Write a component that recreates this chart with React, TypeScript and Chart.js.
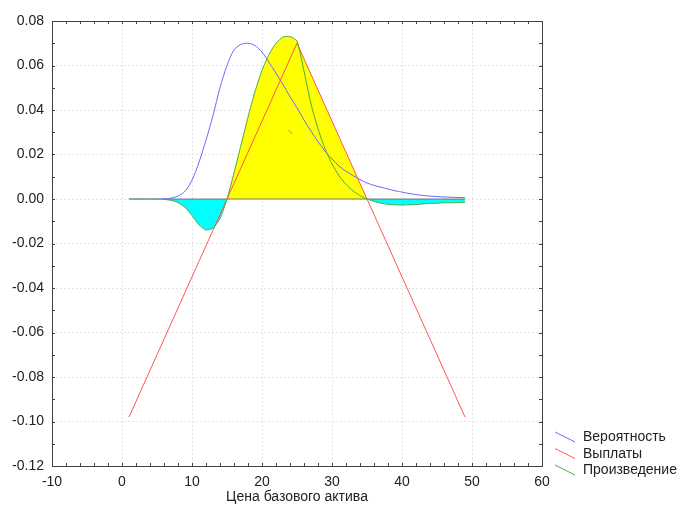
import React, { useEffect, useRef } from "react";
import { Chart, registerables } from "chart.js";

Chart.register(...registerables);

// Underlying asset price (x axis)
const priceX = [
  1, 2, 3, 4, 5, 6, 7, 8, 9, 10, 11, 12, 13, 14, 15, 16, 17, 18, 19, 20, 21, 22, 23, 24, 25,
  26, 27, 28, 29, 30, 31, 32, 33, 34, 35, 36, 37, 38, 39, 40, 41, 42, 43, 44, 45, 46, 47, 48, 49,
];

// Вероятность (probability density)
const probability = [
  0, 0, 0, 0, 0, 0.0001, 0.0004, 0.0013, 0.0035, 0.0085, 0.0165, 0.0265, 0.0375, 0.05, 0.06,
  0.067, 0.0695, 0.07, 0.069, 0.066, 0.0615, 0.0565, 0.0515, 0.046, 0.041, 0.0355, 0.0305,
  0.0258, 0.0215, 0.018, 0.0148, 0.0125, 0.0105, 0.0087, 0.0072, 0.0061, 0.0053, 0.0045,
  0.0037, 0.0031, 0.0025, 0.002, 0.0016, 0.0013, 0.0011, 0.0009, 0.0008, 0.0007, 0.0006,
];

// Выплаты (payoff)
const payoff = [
  -0.098, -0.091, -0.084, -0.077, -0.07, -0.063, -0.056, -0.049, -0.042, -0.035, -0.028, -0.021,
  -0.014, -0.007, 0, 0.007, 0.014, 0.021, 0.028, 0.035, 0.042, 0.049, 0.056, 0.063, 0.07, 0.063,
  0.056, 0.049, 0.042, 0.035, 0.028, 0.021, 0.014, 0.007, 0, -0.007, -0.014, -0.021, -0.028,
  -0.035, -0.042, -0.049, -0.056, -0.063, -0.07, -0.077, -0.084, -0.091, -0.098,
];

// Произведение (product)
const product = [
  0, 0, 0, 0, 0, -0.0002, -0.0006, -0.0016, -0.0037, -0.0074, -0.0116, -0.0139, -0.0131,
  -0.0088, 0, 0.0117, 0.0243, 0.0368, 0.0483, 0.0578, 0.065, 0.07, 0.0728, 0.073, 0.071,
  0.0575, 0.0427, 0.0316, 0.0226, 0.0158, 0.0104, 0.0066, 0.0037, 0.0015, 0, -0.0011, -0.0019,
  -0.0024, -0.0026, -0.0027, -0.0026, -0.0025, -0.0022, -0.002, -0.0019, -0.0017, -0.0017,
  -0.0016, -0.0015,
];

// Zero baseline segment drawn under the fills
const baselineX = [6, 49];
const baselineY = [0, 0];

// Small stray stroke inside the yellow area
const strayX = [23.8, 24.3];
const strayY = [0.031, 0.0292];

const legendLabels = ["Вероятность", "Выплаты", "Произведение"];
const xTitle = "Цена базового актива";

const xMin = -10, xMax = 60, xStep = 10, xMinorStep = 2;
const yMin = -0.12, yMax = 0.08, yStep = 0.02, yMinorStep = 0.01;

const BLUE = "rgb(105,105,255)";
const RED = "rgb(255,85,85)";
const GREEN = "rgb(70,170,70)";
const FONT = "'Liberation Sans', Arial, sans-serif";

export default function App() {
  const ref = useRef<HTMLCanvasElement | null>(null);

  useEffect(() => {
    document.body.style.margin = "0";
    const canvas = ref.current;
    if (!canvas) return;

    const pts = (ys: number[]) => priceX.map((x, i) => ({ x, y: ys[i] }));
    const yellowPts = priceX
      .map((x, i) => ({ x, y: Math.max(product[i], payoff[i], 0) }))
      .filter((p) => p.x >= 15 && p.x <= 35);
    const cyanPts = priceX.map((x, i) => ({ x, y: Math.min(product[i], 0) }));

    const colors = [BLUE, RED, GREEN];

    const deco = {
      id: "deco",
      afterDatasetsDraw(chart: any) {
        const { ctx, chartArea: a, scales } = chart;
        const xs = scales.x, ys = scales.y;
        ctx.save();
        ctx.strokeStyle = "#444";
        ctx.lineWidth = 1;
        ctx.beginPath();
        for (let v = xMin; v <= xMax + 1e-9; v += xMinorStep) {
          const px = Math.round(xs.getPixelForValue(v)) + 0.5;
          ctx.moveTo(px, a.bottom);
          ctx.lineTo(px, a.bottom - 3);
          ctx.moveTo(px, a.top);
          ctx.lineTo(px, a.top + 3);
        }
        for (let k = 0; k <= Math.round((yMax - yMin) / yMinorStep); k++) {
          const v = yMin + k * yMinorStep;
          const py = Math.round(ys.getPixelForValue(v)) + 0.5;
          ctx.moveTo(a.left, py);
          ctx.lineTo(a.left + 3, py);
          ctx.moveTo(a.right, py);
          ctx.lineTo(a.right - 3, py);
        }
        ctx.stroke();
        ctx.strokeStyle = "#404040";
        ctx.strokeRect(a.left + 0.5, a.top + 0.5, a.right - a.left, a.bottom - a.top);
        ctx.restore();
      },
      afterDraw(chart: any) {
        const { ctx, chartArea: a } = chart;
        ctx.save();
        ctx.font = `14px ${FONT}`;
        ctx.fillStyle = "#222";
        ctx.textAlign = "center";
        ctx.textBaseline = "middle";
        ctx.fillText(xTitle, (a.left + a.right) / 2, 497);
        ctx.textAlign = "left";
        legendLabels.forEach((lab, i) => {
          const y0 = 432 + i * 16.5;
          ctx.strokeStyle = colors[i];
          ctx.lineWidth = 1;
          ctx.beginPath();
          ctx.moveTo(555, y0);
          ctx.lineTo(575, y0 + 10);
          ctx.stroke();
          ctx.fillText(lab, 583, y0 + 5.5);
        });
        ctx.restore();
      },
    };

    const chart = new Chart(canvas, {
      type: "line",
      data: {
        datasets: [
          {
            label: "yellow",
            data: yellowPts,
            borderWidth: 0,
            pointRadius: 0,
            backgroundColor: "#ffff00",
            fill: "origin",
            order: 10,
          },
          {
            label: "cyan",
            data: cyanPts,
            borderWidth: 0,
            pointRadius: 0,
            backgroundColor: "#00ffff",
            fill: "origin",
            order: 9,
          },
          {
            label: "base",
            data: baselineX.map((x, i) => ({ x, y: baselineY[i] })),
            borderColor: "rgba(90,90,90,0.8)",
            borderWidth: 1,
            pointRadius: 0,
            fill: false,
            order: 8,
          },
          {
            label: "stray",
            data: strayX.map((x, i) => ({ x, y: strayY[i] })),
            borderColor: "rgba(120,120,80,0.7)",
            borderWidth: 1,
            pointRadius: 0,
            fill: false,
            order: 7,
          },
          {
            label: legendLabels[0],
            data: pts(probability),
            borderColor: BLUE,
            borderWidth: 1,
            pointRadius: 0,
            tension: 0.3,
            fill: false,
            order: 3,
          },
          {
            label: legendLabels[1],
            data: pts(payoff),
            borderColor: RED,
            borderWidth: 1,
            pointRadius: 0,
            fill: false,
            order: 2,
          },
          {
            label: legendLabels[2],
            data: pts(product),
            borderColor: GREEN,
            borderWidth: 1,
            pointRadius: 0,
            tension: 0.2,
            fill: false,
            order: 1,
          },
        ],
      },
      options: {
        responsive: false,
        animation: false,
        devicePixelRatio: 1,
        layout: { padding: { top: 21, right: 138, left: 0, bottom: 0 } },
        plugins: { legend: { display: false }, tooltip: { enabled: false } },
        scales: {
          x: {
            type: "linear",
            min: xMin,
            max: xMax,
            afterFit: (s: any) => {
              s.height = 44;
            },
            ticks: {
              stepSize: xStep,
              padding: 8,
              color: "#222",
              font: { family: FONT, size: 14 },
            },
            grid: { color: "#e4e4e4", drawTicks: false },
            border: { display: false, dash: [2, 2] },
          },
          y: {
            type: "linear",
            min: yMin,
            max: yMax,
            afterFit: (s: any) => {
              s.width = 52;
            },
            ticks: {
              stepSize: yStep,
              padding: 8,
              color: "#222",
              font: { family: FONT, size: 14 },
              callback: (v: any) => (Math.abs(v) < 1e-9 ? "0.00" : Number(v).toFixed(2)),
            },
            grid: { color: "#e4e4e4", drawTicks: false },
            border: { display: false, dash: [2, 2] },
          },
        },
      },
      plugins: [deco],
    } as any);

    return () => chart.destroy();
  }, []);

  return (
    <div style={{ position: "fixed", left: 0, top: 0, width: 680, height: 510 }}>
      <canvas ref={ref} width={680} height={510} />
    </div>
  );
}
